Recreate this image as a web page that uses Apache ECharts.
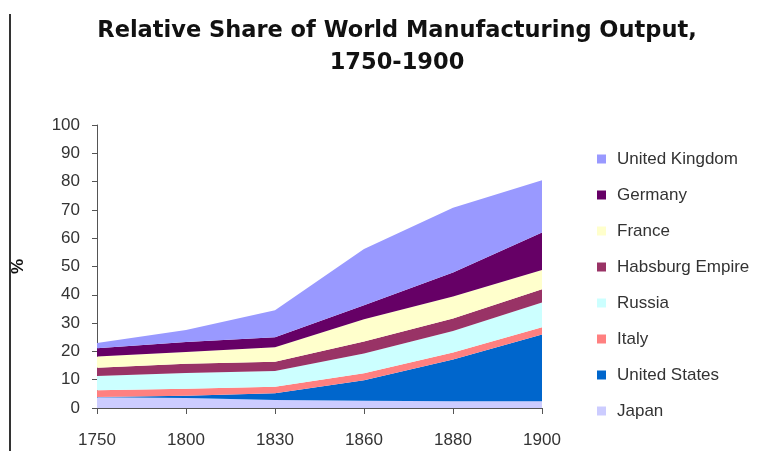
<!DOCTYPE html>
<html>
<head>
<meta charset="utf-8">
<script src="https://cdn.jsdelivr.net/npm/echarts@6/dist/echarts.min.js"></script>
<style>html,body{margin:0;padding:0;background:#fff}#c{width:782px;height:451px}</style>
</head>
<body>
<div id="c"></div>
<script>
const years = ['1750','1800','1830','1860','1880','1900'];
// stacking order bottom -> top
const japan = [3.8, 3.5, 2.8, 2.6, 2.4, 2.4];
const unitedStates = [0.1, 0.8, 2.4, 7.2, 14.7, 23.6];
const italy = [2.4, 2.5, 2.3, 2.5, 2.5, 2.5];
const russia = [5.0, 5.6, 5.6, 7.0, 7.6, 8.8];
const habsburg = [2.9, 3.2, 3.2, 4.2, 4.4, 4.7];
const france = [4.0, 4.2, 5.2, 7.9, 7.8, 6.8];
const germany = [2.9, 3.5, 3.5, 4.9, 8.5, 13.2];
const unitedKingdom = [1.9, 4.3, 9.5, 19.9, 22.9, 18.5];
const yTicks = [0,10,20,30,40,50,60,70,80,90,100];
const legendOrder = ['United Kingdom','Germany','France','Habsburg Empire','Russia','Italy','United States','Japan'];

const seriesDefs = [
  ['Japan', japan, '#CCCCFF'],
  ['United States', unitedStates, '#0066CC'],
  ['Italy', italy, '#FF8080'],
  ['Russia', russia, '#CCFFFF'],
  ['Habsburg Empire', habsburg, '#993366'],
  ['France', france, '#FFFFCC'],
  ['Germany', germany, '#660066'],
  ['United Kingdom', unitedKingdom, '#9999FF']
];

const chart = echarts.init(document.getElementById('c'));
const font = 'Arial, "Liberation Sans", sans-serif';
chart.setOption({
  animation: false,
  backgroundColor: '#fff',
  textStyle: {fontFamily: font},
  title: {
    text: 'Relative Share of World Manufacturing Output,\n1750-1900',
    left: 392, textAlign: 'center', top: 10,
    textStyle: {fontSize: 22.5, fontWeight: 'bold', color: '#111', lineHeight: 32, fontFamily: '"DejaVu Sans", sans-serif'}
  },
  graphic: [{
    type: 'line', shape: {x1: 10, y1: 14, x2: 10, y2: 451},
    style: {stroke: '#333', lineWidth: 2}
  }],
  legend: {
    orient: 'vertical', left: 592, top: 145,
    data: legendOrder,
    icon: 'rect', itemWidth: 9, itemHeight: 9, itemGap: 18,
    textStyle: {fontSize: 17, color: '#333', lineHeight: 18, fontFamily: font, padding: [0,0,0,6]}
  },
  grid: {left: 97, right: 240, top: 125, bottom: 43},
  xAxis: {
    type: 'category', data: years, boundaryGap: false,
    axisLine: {lineStyle: {color: '#555', width: 1}},
    axisTick: {show: true, alignWithLabel: true, length: 6, inside: false, lineStyle: {color: '#555'}},
    axisLabel: {fontSize: 17, color: '#333', margin: 24, fontFamily: font},
    splitLine: {show: false}
  },
  yAxis: {
    type: 'value', min: 0, max: 100, interval: 10,
    name: '%', nameLocation: 'middle', nameGap: 70, nameRotate: 90,
    nameTextStyle: {fontSize: 17, fontWeight: 'bold', color: '#111', fontFamily: font},
    axisLine: {show: true, lineStyle: {color: '#555', width: 1}},
    axisTick: {show: true, length: 5, lineStyle: {color: '#555'}},
    axisLabel: {fontSize: 17, color: '#333', margin: 17, fontFamily: font,
      formatter: v => yTicks.includes(v) ? String(v) : ''},
    splitLine: {show: false}
  },
  series: seriesDefs.map(([name, data, color]) => ({
    name, type: 'line', stack: 'total', data,
    showSymbol: false, symbol: 'none',
    lineStyle: {width: 0},
    itemStyle: {color},
    areaStyle: {color, opacity: 1}
  }))
});
</script>
</body>
</html>
